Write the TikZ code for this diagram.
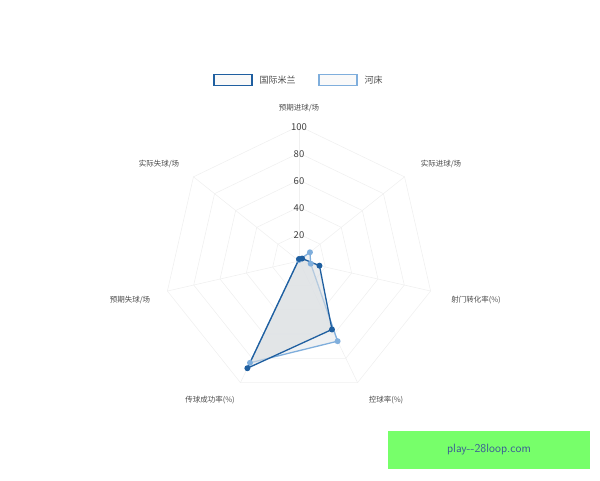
\documentclass[tikz,border=0pt]{standalone}
\usepackage{fontspec}
\setmainfont{Noto Sans CJK SC}
\usetikzlibrary{calc}
\begin{document}
\begin{tikzpicture}[x=1pt,y=-1pt,
  lbl/.style={font=\fontsize{7.5}{9}\selectfont,text=black!70},
  tick/.style={font=\fontsize{9.5}{11}\selectfont,text=black!75},
  grid/.style={draw=black!6,line width=0.6pt},
]
\definecolor{dk}{HTML}{1F5FA0}
\definecolor{lt}{HTML}{7FAEDC}
\useasboundingbox (0,0) rectangle (600,480);
\coordinate (c) at (299,261);
% grid
\foreach \r in {27,54,81,108,135}{
  \draw[grid] ($(c)+(90:\r pt)$) \foreach \k in {1,...,6}{ -- ($(c)+({90-\k*360/7}:\r pt)$)} -- cycle;
}
\foreach \k in {0,...,6}{\draw[grid] (c) -- ($(c)+({90-\k*360/7}:135pt)$);}
% ticks
\node[tick] (t20) at (299,235) {20};
\node[tick] (t40) at (299,208) {40};
\node[tick] (t60) at (299,181) {60};
\node[tick] (t80) at (299,154) {80};
\node[tick] (t100) at (299,127) {100};
% labels
\node[lbl] (a0) at (299,108) {预期进球/场};
\node[lbl] (a1) at (441,164) {实际进球/场};
\node[lbl] (a2) at (476,300) {射门转化率(\%)};
\node[lbl] (a3) at (386,400) {控球率(\%)};
\node[lbl] (a4) at (210,400) {传球成功率(\%)};
\node[lbl] (a5) at (130,300) {预期失球/场};
\node[lbl] (a6) at (159,164) {实际失球/场};
% datasets: values scaled to px (135=100)
\def\pts#1#2#3#4#5#6#7{($(c)+(90:#1pt)$) -- ($(c)+({90-360/7}:#2pt)$) -- ($(c)+({90-2*360/7}:#3pt)$) -- ($(c)+({90-3*360/7}:#4pt)$) -- ($(c)+({90-4*360/7}:#5pt)$) -- ($(c)+({90-5*360/7}:#6pt)$) -- ($(c)+({90-6*360/7}:#7pt)$) -- cycle}
\fill[lt!30!gray!20,opacity=0.6] \pts{1}{14}{12}{89}{113}{1}{1};
\draw[lt,line width=1.3pt] \pts{1}{14}{12}{89}{113}{1}{1};
\fill[dk!20!gray!25,opacity=0.6] \pts{2}{4}{21}{76}{119}{1}{1};
\draw[dk,line width=1.3pt] \pts{2}{4}{21}{76}{119}{1}{1};
\foreach \a/\r in {90/1,{90-360/7}/14,{90-2*360/7}/12,{90-3*360/7}/89,{90-4*360/7}/113}
  \fill[lt] ($(c)+(\a:\r pt)$) circle (3);
\foreach \a/\r in {90/2,{90-360/7}/4,{90-2*360/7}/21,{90-3*360/7}/76,{90-4*360/7}/119}
  \fill[dk] ($(c)+(\a:\r pt)$) circle (3);
% legend
\node[draw=dk,line width=1.5pt,minimum width=38,minimum height=11,inner sep=0,fill=gray!5] (l1) at (233,80) {};
\node[lbl,anchor=west,font=\fontsize{9}{11}\selectfont] (l1t) at (256,80) {国际米兰};
\node[draw=lt,line width=1.5pt,minimum width=38,minimum height=11,inner sep=0,fill=gray!5] (l2) at (338,80) {};
\node[lbl,anchor=west,font=\fontsize{9}{11}\selectfont] (l2t) at (361,80) {河床};
% watermark
\node[fill={rgb,255:red,119;green,255;blue,106},minimum width=202,minimum height=38,inner sep=0,text={rgb,255:red,58;green,90;blue,150},font=\fontsize{12}{14}\selectfont\sffamily] (wm) at (489,450) {play-{}-28loop.com};
\end{tikzpicture}
\end{document}
